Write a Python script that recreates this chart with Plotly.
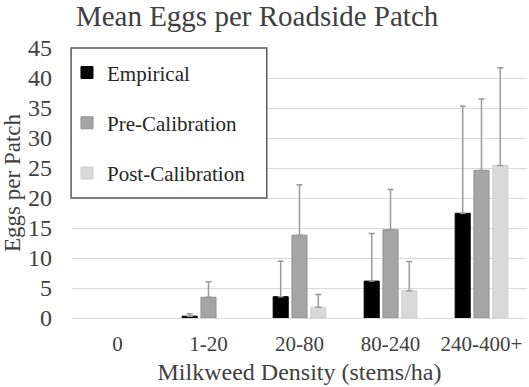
import plotly.graph_objects as go

categories = ["0", "1-20", "20-80", "80-240", "240-400+"]
series_names = ["Empirical", "Pre-Calibration", "Post-Calibration"]
empirical = [0, 0.3, 3.55, 6.15, 17.45]
pre_cal = [0, 3.45, 13.8, 14.7, 24.6]
post_cal = [0, 0, 1.8, 4.55, 25.4]
empirical_err = [0, 0.4, 5.9, 7.95, 17.85]
pre_cal_err = [0, 2.6, 8.4, 6.7, 11.9]
post_cal_err = [0, 0, 2.1, 4.85, 16.3]
y_ticks = [0, 5, 10, 15, 20, 25, 30, 35, 40, 45]

colors = ["#000000", "#a5a5a5", "#d9d9d9"]
line_colors = ["#000000", "#8f8f8f", "#cfcfcf"]
values = [empirical, pre_cal, post_cal]
errors = [empirical_err, pre_cal_err, post_cal_err]

FONT = "Liberation Serif, Times New Roman, serif"
TXT = "#404040"
fig = go.Figure()
for i, name in enumerate(series_names):
    # zero-height bars are left undrawn (as in the reference), so no stray caps
    shown = [v if v > 0 else None for v in values[i]]
    fig.add_trace(go.Bar(
        x=categories, y=shown, name=name,
        legendgroup=name,
        marker=dict(color=colors[i], line=dict(color=line_colors[i], width=1)),
        error_y=dict(type="data", symmetric=False, array=errors[i],
                     arrayminus=[0] * len(errors[i]),
                     color="#999999", thickness=1.5, width=3),
    ))

fig.update_layout(
    width=529, height=387,
    margin=dict(l=72, r=2, t=48, b=69, autoexpand=False),
    paper_bgcolor="white", plot_bgcolor="white",
    barmode="group", bargap=0.38, bargroupgap=0.2,
    title=dict(text="Mean Eggs per Roadside Patch", x=0.486, xanchor="center",
               xref="container", yref="container", y=0.959, yanchor="middle",
               font=dict(family=FONT, size=29, color=TXT)),
    font=dict(family=FONT, color=TXT),
    xaxis=dict(showgrid=False, showline=False, ticks="", automargin=False,
               ticklabelstandoff=11,
               tickfont=dict(family=FONT, size=21, color=TXT),
               title=dict(text="Milkweed Density (stems/ha)", standoff=8,
                          font=dict(family=FONT, size=24, color=TXT))),
    yaxis=dict(range=[0, 45], tickvals=y_ticks, showgrid=True, gridcolor="#d9d9d9",
               gridwidth=1.3, zeroline=True, zerolinecolor="#d9d9d9", zerolinewidth=1.3,
               showline=False, ticks="", automargin=False,
               ticklabelstandoff=19,
               tickfont=dict(family=FONT, size=24, color=TXT),
               title=dict(text="Eggs per Patch", standoff=0,
                          font=dict(family=FONT, size=23, color=TXT))),
    legend=dict(x=-0.011, xanchor="left", y=0.984, yanchor="top",
                bgcolor="rgba(0,0,0,0)", borderwidth=0,
                tracegroupgap=20, itemwidth=30,
                font=dict(family=FONT, size=21, color="#262626")),
    shapes=[dict(type="rect", xref="paper", yref="paper",
                 x0=-0.002, x1=0.428, y0=0.444, y1=1.0,
                 line=dict(color="#595959", width=1.5),
                 fillcolor="white", layer="above")],
)

fig.write_html("out.html", config={"displayModeBar": False},
               post_script="document.body.style.margin='0px';")
